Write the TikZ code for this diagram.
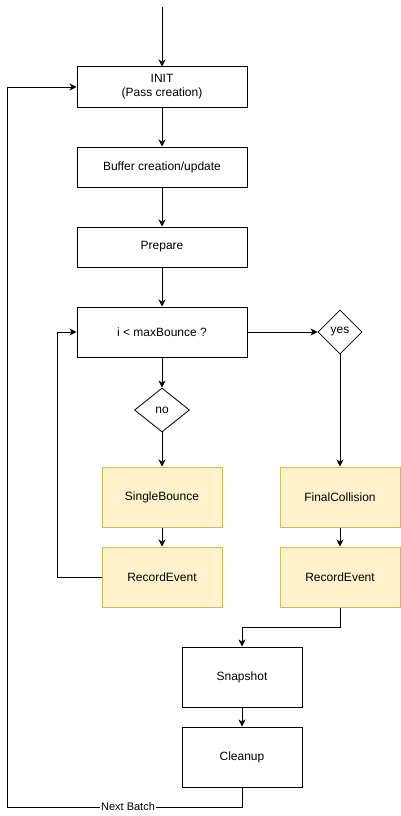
\documentclass[tikz,border=0pt]{standalone}
\usepackage{fontspec}
\setmainfont{Liberation Sans}
\usetikzlibrary{shapes.geometric,arrows.meta}
\definecolor{yfill}{HTML}{FFF2CC}
\definecolor{ydraw}{HTML}{D6B656}
\begin{document}
\begin{tikzpicture}[x=1pt,y=-1pt,
  every node/.style={font=\fontsize{12}{14}\selectfont, inner sep=0pt, align=center},
  plainbox/.style={draw=black, line width=1pt, fill=white, minimum width=170pt, minimum height=40pt},
  smallbox/.style={draw=black, line width=1pt, fill=white, minimum width=120pt, minimum height=60pt},
  yellowbox/.style={draw=ydraw, line width=1pt, fill=yfill, minimum width=120pt, minimum height=60pt},
  decision/.style={draw=black, line width=0.8pt, fill=white, shape=diamond, minimum width=#1, minimum height=44pt},
  conn/.style={draw=black, line width=1pt, -{Stealth[length=7pt,width=7pt,inset=2pt]}},
  line/.style={draw=black, line width=1pt}]
\useasboundingbox (0,0) rectangle (401,816);
\fill[white] (0,0) rectangle (401,816);

\coordinate (start) at (162,7);
\node[plainbox] (init) at (162,87) {INIT\\(Pass creation)};
\node[plainbox] (buffer) at (162,167) {Buffer creation/update};
\node[plainbox] (prepare) at (162,247) {Prepare};
\node[plainbox, minimum height=50pt] (cond) at (162,332) {i < maxBounce ?};
\node[decision=44pt] (yes) at (340,332) {yes};
\node[decision=55pt] (no) at (162,410) {no};
\node[yellowbox] (single) at (162,497) {SingleBounce};
\node[yellowbox] (recl) at (162,577) {RecordEvent};
\node[yellowbox] (final) at (340,497) {FinalCollision};
\node[yellowbox] (recr) at (340,577) {RecordEvent};
\node[smallbox] (snap) at (242,677) {Snapshot};
\node[smallbox] (clean) at (242,757) {Cleanup};

\draw[conn] (start) -- (init.north);
\draw[conn] (init) -- (buffer);
\draw[conn] (buffer) -- (prepare);
\draw[conn] (prepare) -- (cond);
\draw[conn] (cond) -- (no);
\draw[conn] (cond.east) -- (yes.west);
\draw[conn] (no) -- (single);
\draw[conn] (single) -- (recl);
\draw[conn] (yes) -- (final);
\draw[conn] (final) -- (recr);
\draw[conn] (recl.west) -- (57,577) -- (57,332) -- (cond.west);
\draw[conn] (recr.south) -- (340,627) -- (242,627) -- (snap.north);
\draw[conn] (snap) -- (clean);
\draw[conn] (clean.south) -- (242,807) -- (7.5,807) -- (7.5,87) -- (init.west);
\node[fill=white, font=\fontsize{11}{13}\selectfont, inner xsep=1pt] (nb) at (128,807) {Next Batch};
\end{tikzpicture}
\end{document}
